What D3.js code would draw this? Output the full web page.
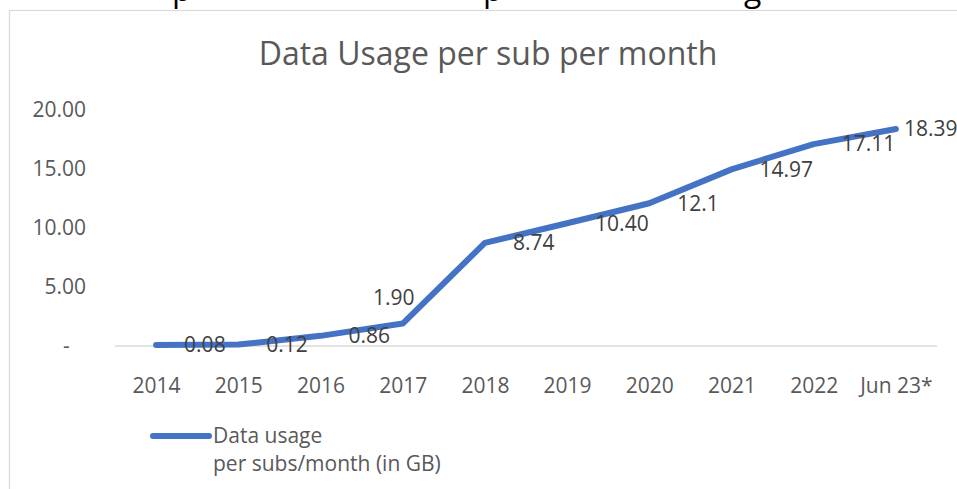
<!DOCTYPE html>
<html>
<head>
<meta charset="utf-8">
<script src="https://cdn.jsdelivr.net/npm/d3@7"></script>
<style>
  html, body { margin: 0; padding: 0; background: #fff; }
  svg { display: block; font-family: "Open Sans", "Noto Sans", sans-serif; }
  .axis text { fill: #595959; font-size: 21px; font-family: "Open Sans", "Noto Sans", sans-serif; }
</style>
</head>
<body>
<div id="chart"></div>
<script>
// Chart data
const categories = ["2014", "2015", "2016", "2017", "2018", "2019", "2020", "2021", "2022", "Jun 23*"];
const usageValues = [0.08, 0.12, 0.86, 1.90, 8.74, 10.40, 12.1, 14.97, 17.11, 18.39];
const usageLabels = ["0.08", "0.12", "0.86", "1.90", "8.74", "10.40", "12.1", "14.97", "17.11", "18.39"];
const yTicks = [0, 5, 10, 15, 20];

const titleText = "Data Usage per sub per month";
const legendLines = ["Data usage", "per subs/month (in GB)"];

const W = 957, H = 489;
const plot = { left: 115, right: 937, top: 110, bottom: 346 };
const BLUE = "#4472C4";
const TEXT = "#595959";
const GRID = "#D9D9D9";

// label placement: most sit right of the point, a couple were nudged in the original
function labelPlacement(i) {
  if (i === 3) return { dx: -9, dy: -26, anchor: "middle" };
  if (i === usageValues.length - 1) return { dx: 8, dy: 0, anchor: "start" };
  return { dx: 28, dy: 0, anchor: "start" };
}

const svg = d3.select("#chart").append("svg")
  .attr("width", W)
  .attr("height", H);

svg.append("rect")
  .attr("width", W).attr("height", H)
  .attr("fill", "#fff");

// clipped descenders of a heading above the chart
svg.append("g")
  .attr("fill", "#000")
  .style("font-size", "32px")
  .selectAll("text")
  .data([{ ch: "p", x: 172 }, { ch: "p", x: 483 }, { ch: "g", x: 744 }])
  .join("text")
  .attr("x", d => d.x)
  .attr("y", 1)
  .text(d => d.ch);

// chart area border
svg.append("rect")
  .attr("x", 9.5).attr("y", 10.5)
  .attr("width", W + 10).attr("height", H + 10)
  .attr("fill", "none")
  .attr("stroke", GRID)
  .attr("stroke-width", 1.2);

svg.append("text")
  .attr("x", 488)
  .attr("y", 65)
  .attr("text-anchor", "middle")
  .attr("fill", TEXT)
  .style("font-size", "32px")
  .text(titleText);

const x = d3.scalePoint()
  .domain(categories)
  .range([plot.left, plot.right])
  .padding(0.5);

const y = d3.scaleLinear()
  .domain([0, 20])
  .range([plot.bottom, plot.top]);

// y axis labels, accounting style with a dash for zero
const yAxis = svg.append("g")
  .attr("class", "axis")
  .attr("transform", `translate(${plot.left}, 0)`)
  .call(d3.axisLeft(y)
    .tickValues(yTicks)
    .tickSize(0)
    .tickPadding(29)
    .tickFormat(v => v === 0 ? "-\u00a0\u00a0\u00a0" : v.toFixed(2)));
yAxis.select(".domain").remove();

// zero line
svg.append("line")
  .attr("x1", plot.left).attr("x2", plot.right)
  .attr("y1", y(0)).attr("y2", y(0))
  .attr("stroke", GRID)
  .attr("stroke-width", 1.5);

const xAxis = svg.append("g")
  .attr("class", "axis")
  .attr("transform", `translate(0, ${plot.bottom})`)
  .call(d3.axisBottom(x).tickSize(0).tickPadding(32));
xAxis.select(".domain").remove();

const points = categories.map((c, i) => ({ cat: c, value: usageValues[i], label: usageLabels[i], i }));

const line = d3.line()
  .x(d => x(d.cat))
  .y(d => y(d.value));

svg.append("path")
  .datum(points)
  .attr("d", line)
  .attr("fill", "none")
  .attr("stroke", BLUE)
  .attr("stroke-width", 6)
  .attr("stroke-linejoin", "round")
  .attr("stroke-linecap", "round");

svg.append("g")
  .selectAll("text")
  .data(points)
  .join("text")
  .attr("x", d => x(d.cat) + labelPlacement(d.i).dx)
  .attr("y", d => y(d.value) + labelPlacement(d.i).dy)
  .attr("dy", "0.35em")
  .attr("text-anchor", d => labelPlacement(d.i).anchor)
  .attr("fill", "#404040")
  .style("font-size", "21px")
  .text(d => d.label);

// legend
const legend = svg.append("g").attr("transform", "translate(153, 436)");
legend.append("line")
  .attr("x1", 0).attr("x2", 56)
  .attr("y1", 0).attr("y2", 0)
  .attr("stroke", BLUE)
  .attr("stroke-width", 6)
  .attr("stroke-linecap", "round");
legend.append("text")
  .attr("x", 60)
  .attr("y", 7)
  .attr("fill", TEXT)
  .style("font-size", "21px")
  .selectAll("tspan")
  .data(legendLines)
  .join("tspan")
  .attr("x", 60)
  .attr("dy", (d, i) => i === 0 ? 0 : 28)
  .text(d => d);
</script>
</body>
</html>
